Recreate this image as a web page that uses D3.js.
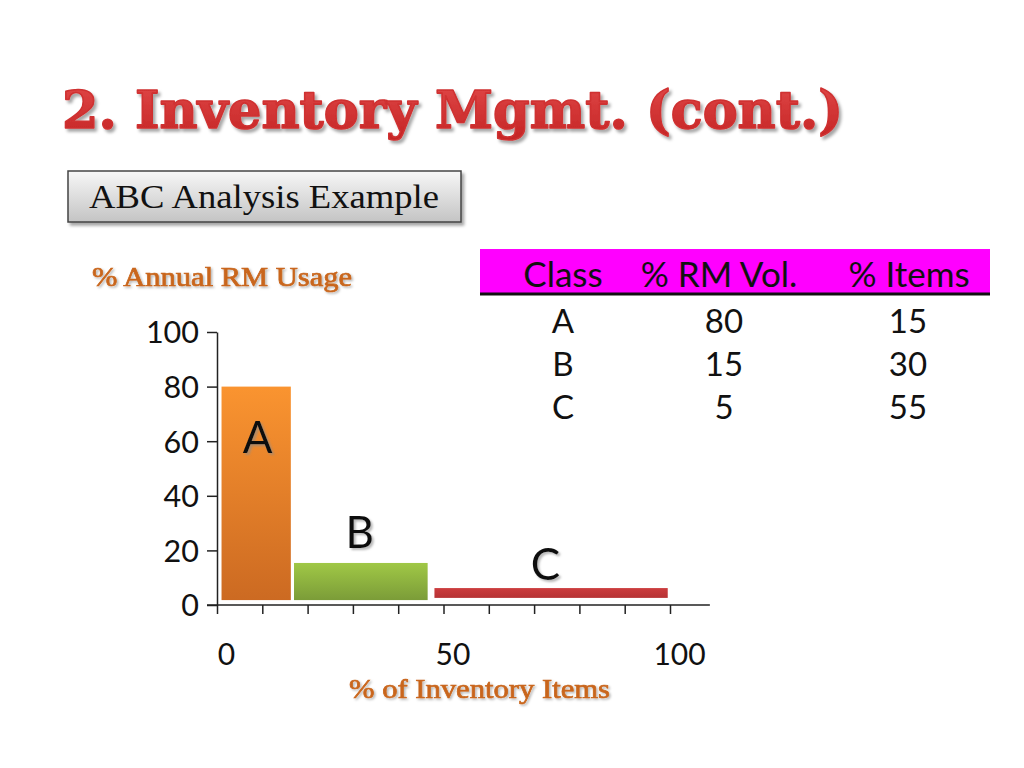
<!DOCTYPE html>
<html><head><meta charset="utf-8">
<script src="https://cdn.jsdelivr.net/npm/d3@7"></script>
<style>html,body{margin:0;padding:0;background:#fff;}svg{display:block;}</style>
</head><body>
<script>
// ---- data ----
const classes = ["A", "B", "C"];
const rmVolume = [80, 15, 5];          // % RM volume
const itemsPct = [15, 30, 55];         // % items
const barStart = [1, 17, 48];          // bar left edge (% items)
const barEnd = [16.3, 46.5, 99.5];     // bar right edge
const barBase = [1.8, 1.8, 2.6];       // bar bottom (% usage)
const barTop = [80, 15.4, 6.2];        // bar top as drawn
const yTicks = [0, 20, 40, 60, 80, 100];
const xMinorTicks = [0, 10, 20, 30, 40, 50, 60, 70, 80, 90, 100];
const xLabelTicks = [0, 50, 100];
const tableHeader = ["Class", "% RM Vol.", "% Items"];

const W = 1024, H = 768;
const svg = d3.select("body").append("svg").attr("width", W).attr("height", H);
const defs = svg.append("defs");

function vgrad(id, c1, c2) {
  const g = defs.append("linearGradient").attr("id", id).attr("x1", 0).attr("y1", 0).attr("x2", 0).attr("y2", 1);
  g.append("stop").attr("offset", "0%").attr("stop-color", c1);
  g.append("stop").attr("offset", "100%").attr("stop-color", c2);
}
vgrad("gTitle", "#e24a4a", "#c42424");
vgrad("gBox", "#f7f7f7", "#c4c4c4");
vgrad("gA", "#fa9430", "#cc6a22");
vgrad("gB", "#a0c846", "#7b9c38");
vgrad("gC", "#cc3c3e", "#b63234");

const sh = defs.append("filter").attr("id", "shadow").attr("x", "-10%").attr("y", "-20%").attr("width", "130%").attr("height", "150%");
sh.append("feDropShadow").attr("dx", 2.5).attr("dy", 3).attr("stdDeviation", 1.8).attr("flood-color", "#000").attr("flood-opacity", 0.35);
const sh2 = defs.append("filter").attr("id", "shadowSmall").attr("x", "-10%").attr("y", "-20%").attr("width", "130%").attr("height", "150%");
sh2.append("feDropShadow").attr("dx", 1.5).attr("dy", 1.5).attr("stdDeviation", 1).attr("flood-color", "#000").attr("flood-opacity", 0.3);
const sh3 = defs.append("filter").attr("id", "labelShadow").attr("x", "-20%").attr("y", "-20%").attr("width", "150%").attr("height", "150%");
sh3.append("feDropShadow").attr("dx", 2).attr("dy", 2).attr("stdDeviation", 1).attr("flood-color", "#888").attr("flood-opacity", 0.6);

// ---- title ----
svg.append("text").attr("x", 62).attr("y", 128)
  .attr("font-family", "DejaVu Serif").attr("font-weight", "bold").attr("font-size", 53)
  .attr("textLength", 781).attr("lengthAdjust", "spacingAndGlyphs")
  .attr("fill", "url(#gTitle)").attr("stroke", "#cf3030").attr("stroke-width", 1.6)
  .attr("stroke-linejoin", "round").attr("filter", "url(#shadow)")
  .text("2. Inventory Mgmt. (cont.)");

// ---- subtitle box ----
svg.append("rect").attr("x", 68).attr("y", 171).attr("width", 393).attr("height", 51)
  .attr("fill", "url(#gBox)").attr("stroke", "#444").attr("stroke-width", 1.5).attr("filter", "url(#shadow)");
svg.append("text").attr("x", 264).attr("y", 208).attr("text-anchor", "middle")
  .attr("font-family", "Liberation Serif").attr("font-size", 34).attr("fill", "#111")
  .attr("textLength", 350).attr("lengthAdjust", "spacingAndGlyphs")
  .text("ABC Analysis Example");

// ---- chart ----
const x = d3.scaleLinear().domain([0, 100]).range([217, 670]);
const y = d3.scaleLinear().domain([0, 100]).range([605, 332]);
const sans = "Lato";

// y axis
const yAxis = svg.append("g").attr("transform", `translate(${x(0)},0)`)
  .call(d3.axisLeft(y).tickValues(yTicks).tickSize(10).tickSizeOuter(0).tickPadding(8));
yAxis.select(".domain").attr("stroke", "#222").attr("stroke-width", 1.5);
yAxis.selectAll(".tick line").attr("stroke", "#222").attr("stroke-width", 1.5);
yAxis.selectAll(".tick text").attr("font-family", sans).attr("font-size", 30.5).attr("fill", "#111").attr("dy", "0.36em");

// x axis line (extends beyond 100)
svg.append("line").attr("x1", x(0) - 10).attr("x2", x(108.8)).attr("y1", y(0)).attr("y2", y(0))
  .attr("stroke", "#222").attr("stroke-width", 1.5);
const xAxis = svg.append("g").attr("transform", `translate(0,${y(0)})`)
  .call(d3.axisBottom(x).tickValues(xMinorTicks).tickSize(9).tickSizeOuter(0).tickFormat(""));
xAxis.select(".domain").remove();
xAxis.selectAll(".tick line").attr("stroke", "#222").attr("stroke-width", 1.5);
const xLab = svg.append("g").attr("transform", `translate(0,${y(0)})`)
  .call(d3.axisBottom(x).tickValues(xLabelTicks).tickSize(0).tickPadding(39).tickFormat(d3.format("d")));
xLab.select(".domain").remove();
xLab.selectAll(".tick text").attr("font-family", sans).attr("font-size", 30).attr("fill", "#111").attr("dx", 9);

// bars
const fills = ["url(#gA)", "url(#gB)", "url(#gC)"];
svg.append("g").selectAll("rect").data(classes).join("rect")
  .attr("x", (d, i) => x(barStart[i]))
  .attr("width", (d, i) => x(barEnd[i]) - x(barStart[i]))
  .attr("y", (d, i) => y(barTop[i]))
  .attr("height", (d, i) => y(barBase[i]) - y(barTop[i]))
  .attr("fill", (d, i) => fills[i]);

// bar labels
const labelPos = [[9, 55.5], [31.5, 21], [72.5, 9.3]];
svg.append("g").selectAll("text").data(classes).join("text")
  .attr("x", (d, i) => x(labelPos[i][0]))
  .attr("y", (d, i) => y(labelPos[i][1]))
  .attr("text-anchor", "middle").attr("font-family", sans).attr("font-size", 44).attr("fill", "#111")
  .attr("filter", "url(#labelShadow)")
  .text(d => d);

// axis titles
svg.append("text").attr("x", 92).attr("y", 286)
  .attr("font-family", "Liberation Serif").attr("font-size", 27)
  .attr("textLength", 260).attr("lengthAdjust", "spacingAndGlyphs")
  .attr("fill", "#c9661c").attr("stroke", "#c9661c").attr("stroke-width", 0.7)
  .attr("filter", "url(#shadowSmall)")
  .text("% Annual RM Usage");
svg.append("text").attr("x", 349).attr("y", 698)
  .attr("font-family", "Liberation Serif").attr("font-size", 27)
  .attr("textLength", 261).attr("lengthAdjust", "spacingAndGlyphs")
  .attr("fill", "#c9661c").attr("stroke", "#c9661c").attr("stroke-width", 0.7)
  .attr("filter", "url(#shadowSmall)")
  .text("% of Inventory Items");

// ---- table ----
const colX = [563, 724, 908];
const headX = [563, 719, 909];
svg.append("rect").attr("x", 480).attr("y", 249).attr("width", 510).attr("height", 44).attr("fill", "#ff00ff");
svg.append("line").attr("x1", 480).attr("x2", 990).attr("y1", 294).attr("y2", 294).attr("stroke", "#111").attr("stroke-width", 3);
svg.append("g").selectAll("text").data(tableHeader).join("text")
  .attr("x", (d, i) => headX[i]).attr("y", 287).attr("text-anchor", "middle")
  .attr("font-family", sans).attr("font-size", 35).attr("fill", "#111").text(d => d);
const rowY = [333, 376, 419];
const rows = svg.append("g");
classes.forEach((c, i) => {
  const vals = [c, rmVolume[i], itemsPct[i]];
  rows.selectAll(null).data(vals).join("text")
    .attr("x", (d, j) => colX[j]).attr("y", rowY[i]).attr("text-anchor", "middle")
    .attr("font-family", sans).attr("font-size", 33).attr("fill", "#111").text(d => d);
});
</script>
</body></html>
